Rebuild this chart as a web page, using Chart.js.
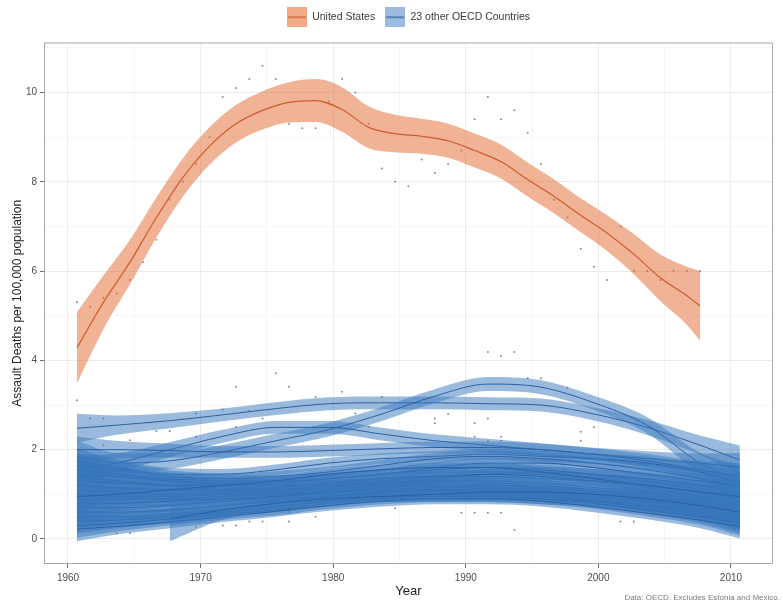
<!DOCTYPE html>
<html><head><meta charset="utf-8">
<script src="https://cdn.jsdelivr.net/npm/chart.js@4.4.1/dist/chart.umd.min.js"></script>
<style>html,body{margin:0;padding:0;background:#fff}#wrap{width:783px;height:608px}</style>
</head><body><div id="wrap"><canvas id="c" width="783" height="608"></canvas></div>
<script>
// Observations are plotted at this fraction of the year
const YEAR_POS = 0.67;

// ---- United States ----
const US_YEARS = [1960,1961,1962,1963,1964,1965,1966,1967,1968,1969,1970,1971,1972,1973,1974,1975,1976,1977,1978,1979,
  1980,1981,1982,1983,1984,1985,1986,1987,1988,1989,1990,1991,1992,1993,1994,1995,1996,1997,1998,1999,
  2000,2001,2002,2003,2004,2005,2006,2007];
const US_RATES = [5.3,5.2,5.4,5.5,5.8,6.2,6.7,7.6,8.0,8.4,9.0,9.9,10.1,10.3,10.6,10.3,9.3,9.2,9.2,9.8,
  10.3,10.0,9.3,8.3,8.0,7.9,8.5,8.2,8.4,8.7,9.4,9.9,9.4,9.6,9.1,8.4,7.6,7.2,6.5,6.1,
  5.8,7.0,6.0,6.0,5.8,6.0,6.0,6.0];
const US_FIT_YEARS = [1960,1962,1964,1966,1968,1970,1972,1974,1976,1978,1980,1982,1984,1986,1988,1990,1992,1994,1996,1998,2000,2002,2004,2006,2007];
const US_FIT = [4.28,5.3,6.2,7.2,8.1,8.8,9.3,9.6,9.78,9.82,9.62,9.22,9.08,9.02,8.92,8.7,8.45,8.05,7.67,7.25,6.85,6.38,5.85,5.45,5.22];
const US_FIT_HALF = [0.8,0.6,0.5,0.45,0.43,0.42,0.42,0.43,0.45,0.48,0.5,0.47,0.42,0.39,0.38,0.38,0.38,0.38,0.38,0.38,0.4,0.45,0.52,0.65,0.78];

// ---- 23 other OECD countries (smoothed fits read at these years) ----
const OECD_SAMPLE_YEARS = [1960,1963,1967,1971,1975,1979,1983,1987,1991,1995,1999,2003,2007,2010];
const OECD_FITS = [
  [2.48,2.55,2.65,2.78,2.92,3.03,3.05,3.05,3.03,3.0,2.8,2.5,2.1,1.77],
  [1.85,1.7,1.75,1.95,2.2,2.45,2.8,3.2,3.47,3.4,3.05,2.55,1.7,1.3],
  [1.55,1.7,2.0,2.3,2.5,2.5,2.35,2.2,2.1,2.0,1.9,1.8,1.7,1.6],
  [2.0,2.0,1.98,1.95,1.95,1.98,2.02,2.05,2.05,2.0,1.9,1.75,1.55,1.4],
  [1.75,1.6,1.45,1.45,1.55,1.7,1.8,1.85,1.9,1.85,1.8,1.7,1.5,1.25],
  [1.65,1.55,1.4,1.35,1.4,1.5,1.65,1.8,1.85,1.8,1.7,1.55,1.35,1.15],
  [1.55,1.45,1.35,1.3,1.3,1.35,1.45,1.6,1.7,1.7,1.6,1.45,1.3,1.2],
  [1.45,1.4,1.3,1.25,1.2,1.2,1.25,1.35,1.45,1.5,1.45,1.35,1.2,1.05],
  [1.4,1.3,1.2,1.1,1.05,1.0,0.95,0.95,0.95,0.9,0.85,0.75,0.6,0.5],
  [1.3,1.25,1.2,1.2,1.25,1.35,1.45,1.55,1.6,1.55,1.45,1.3,1.1,0.9],
  [1.2,1.15,1.1,1.1,1.15,1.25,1.35,1.4,1.4,1.35,1.3,1.2,1.05,0.9],
  [1.1,1.05,1.0,1.05,1.1,1.2,1.3,1.4,1.45,1.4,1.3,1.15,0.95,0.8],
  [1.0,0.95,0.95,1.0,1.05,1.15,1.25,1.3,1.3,1.25,1.15,1.05,0.9,0.75],
  [0.9,0.9,0.9,0.95,1.0,1.1,1.2,1.25,1.25,1.2,1.1,1.0,0.85,0.7],
  [0.8,0.8,0.85,0.9,0.95,1.05,1.15,1.2,1.2,1.15,1.05,0.95,0.8,0.65],
  [0.7,0.7,0.75,0.85,0.95,1.05,1.1,1.15,1.15,1.1,1.0,0.9,0.75,0.6],
  [0.6,0.6,0.65,0.75,0.85,0.95,1.05,1.1,1.1,1.05,0.95,0.85,0.7,0.55],
  [0.5,0.5,0.55,0.65,0.8,0.95,1.05,1.1,1.05,1.0,0.9,0.75,0.6,0.45],
  [0.4,0.42,0.5,0.6,0.72,0.85,0.95,1.0,1.0,0.95,0.85,0.7,0.55,0.4],
  [0.3,0.35,0.45,0.55,0.65,0.8,0.9,0.95,0.95,0.9,0.8,0.65,0.5,0.35],
  [0.22,0.28,0.38,0.5,0.62,0.75,0.85,0.9,0.9,0.85,0.72,0.58,0.42,0.28],
  [null,null,0.45,0.65,0.8,0.9,0.95,1.0,1.05,1.05,1.0,0.9,0.75,0.6],
  [0.95,1.0,1.1,1.2,1.3,1.45,1.55,1.6,1.6,1.5,1.35,1.2,1.05,0.95]
];
const OECD_BAND_HALF = [0.27,0.18,0.14,0.12,0.12,0.12,0.12,0.12,0.12,0.12,0.12,0.14,0.18,0.27];
const LATE_BAND_HALF = [null,null,0.5,0.22,0.14,0.12,0.12,0.12,0.12,0.12,0.12,0.14,0.18,0.27];
const OECD_BAND_SCALE = [1.2,1.3,1.2,1.1,1,1,1,1,1,1,1,1,1,1,1,1,1,1,1,1,1,1,1];
// Visible individual observations outside the fitted bands
const OECD_PT_YEARS = [1960,1961,1962,1962,1964,1966,1967,1969,1969,1971,1972,1972,1973,1974,1975,1976,1978,1980,1981,1982,1983,
  1987,1987,1988,1990,1991,1990,1991,1992,1992,1991,1992,1993,1994,1995,1997,1998,1998,1999,
  1963,1964,1969,1971,1972,1973,1974,1976,1976,1978,1984,1989,1990,1991,1992,1993,2001,2002];
const OECD_PT_RATES = [3.11,2.70,2.70,2.10,2.21,2.42,2.42,2.81,2.29,2.90,3.41,2.51,2.87,2.70,3.71,3.41,3.18,3.30,2.81,2.51,3.18,
  2.70,2.59,2.80,2.60,2.70,2.29,2.20,2.29,2.20,4.19,4.10,4.19,3.60,3.60,3.39,2.40,2.20,2.50,
  0.13,0.13,0.28,0.30,0.30,0.39,0.39,0.39,0.61,0.50,0.69,0.59,0.59,0.59,0.59,0.20,0.39,0.39];

// Axis ticks
const X_TICKS = [1960,1965,1970,1975,1980,1985,1990,1995,2000,2005,2010];
const X_LABELS = [1960,1970,1980,1990,2000,2010];
const Y_TICKS = [0,1,2,3,4,5,6,7,8,9,10,11];
const Y_LABELS = [0,2,4,6,8,10];

const US_FILL = 'rgba(228,110,52,0.52)';
const US_LINE = '#cf5b2c';
const OECD_FILL = 'rgba(55,120,190,0.5)';
const OECD_LINE = '#2a5fa3';
const PT_COLOR = 'rgba(85,90,110,0.7)';

const datasets = [];
let drawIdx = 0;
function add(ds){ ds.order = 10000 - (drawIdx++); ds.xAxisID = 'x'; ds.yAxisID = 'y'; datasets.push(ds); return ds; }

// points first (drawn underneath)
add({label:'us-pts', data: US_YEARS.map((y,i)=>({x:y+YEAR_POS,y:US_RATES[i]})), showLine:false,
  pointRadius:1.0, pointBorderWidth:0, pointBackgroundColor:PT_COLOR});
add({label:'oecd-pts', data: OECD_PT_YEARS.map((y,i)=>({x:y+YEAR_POS,y:OECD_PT_RATES[i]})), showLine:false,
  pointRadius:1.0, pointBorderWidth:0, pointBackgroundColor:PT_COLOR});

const bandBase = {pointRadius:0, borderWidth:0, cubicInterpolationMode:'monotone'};
OECD_FITS.forEach((fit,i)=>{
  const halfArr = fit[0]==null ? LATE_BAND_HALF : OECD_BAND_HALF;
  const up=[], lo=[], mid=[];
  OECD_SAMPLE_YEARS.forEach((yr,j)=>{
    if (fit[j]==null) return;
    const h = halfArr[j]*OECD_BAND_SCALE[i];
    up.push({x:yr+YEAR_POS,y:fit[j]+h}); lo.push({x:yr+YEAR_POS,y:fit[j]-h}); mid.push({x:yr+YEAR_POS,y:fit[j]});
  });
  add(Object.assign({label:'oecd-up-'+i, data:up, fill:'+1', backgroundColor:OECD_FILL}, bandBase));
  add(Object.assign({label:'oecd-lo-'+i, data:lo, fill:false}, bandBase));
  add({label:'oecd-fit-'+i, data:mid, borderColor:OECD_LINE, borderWidth:1, pointRadius:0, fill:false, cubicInterpolationMode:'monotone'});
});
{
  const up=[], lo=[], mid=[];
  US_FIT_YEARS.forEach((yr,j)=>{
    up.push({x:yr+YEAR_POS,y:US_FIT[j]+US_FIT_HALF[j]});
    lo.push({x:yr+YEAR_POS,y:US_FIT[j]-US_FIT_HALF[j]});
    mid.push({x:yr+YEAR_POS,y:US_FIT[j]});
  });
  add(Object.assign({label:'us-up', data:up, fill:'+1', backgroundColor:US_FILL}, bandBase));
  add(Object.assign({label:'us-lo', data:lo, fill:false}, bandBase));
  add({label:'us-fit', data:mid, borderColor:US_LINE, borderWidth:1.2, pointRadius:0, fill:false, cubicInterpolationMode:'monotone'});
}

function keyCanvas(fill, line){
  const c = document.createElement('canvas'); c.width=20; c.height=20;
  const x = c.getContext('2d');
  x.fillStyle = fill; x.fillRect(0,0,20,20);
  x.strokeStyle = line; x.lineWidth = 1.2; x.beginPath(); x.moveTo(1,10); x.lineTo(19,10); x.stroke();
  return c;
}
const US_KEY = keyCanvas('#f1ab89', US_LINE);
const OECD_KEY = keyCanvas('#9bbbe0', OECD_LINE);

const frame = {
  id:'frame',
  afterDatasetsDraw(chart){
    const {ctx, chartArea:a} = chart;
    ctx.save(); ctx.strokeStyle='#a8a8a8'; ctx.lineWidth=1;
    ctx.strokeRect(a.left+0.5, a.top+0.5, a.right-a.left-1, a.bottom-a.top-1);
    ctx.restore();
  },
  afterDraw(chart){
    const ctx = chart.ctx; ctx.save();
    ctx.font = '8px "Liberation Sans", Arial, sans-serif'; ctx.fillStyle='#7a7a7a';
    ctx.textAlign='right'; ctx.textBaseline='middle';
    ctx.fillText('Data: OECD. Excludes Estonia and Mexico.', 780, 598);
    ctx.restore();
  }
};

Chart.defaults.font.family = '"Liberation Sans", Arial, sans-serif';
new Chart(document.getElementById('c'), {
  type:'line',
  data:{datasets},
  plugins:[frame],
  options:{
    responsive:false, animation:false, devicePixelRatio:1,
    layout:{padding:{top:2,right:10,bottom:0,left:0}},
    plugins:{
      tooltip:{enabled:false},
      legend:{
        position:'top', align:'center', fullSize:false,
        labels:{
          usePointStyle:true, pointStyleWidth:20, padding:10,
          color:'#3a3a3a', font:{size:10.5},
          generateLabels(){
            return [
              {text:'United States', pointStyle:US_KEY, fillStyle:'#f1ab89', strokeStyle:US_LINE, lineWidth:0, hidden:false, fontColor:'#3a3a3a'},
              {text:'23 other OECD Countries', pointStyle:OECD_KEY, fillStyle:'#9bbbe0', strokeStyle:OECD_LINE, lineWidth:0, hidden:false, fontColor:'#3a3a3a'}
            ];
          }
        },
        onClick(){}
      }
    },
    scales:{
      x:{
        type:'linear', position:'bottom', min:1958.19, max:2013.17,
        afterBuildTicks(s){ s.ticks = X_TICKS.map(v=>({value:v})); },
        afterFit(s){ s.height = 44; },
        border:{display:false},
        grid:{
          color:(c)=> X_LABELS.includes(c.tick && c.tick.value) ? '#ebebeb' : '#f6f6f6',
          tickColor:(c)=> X_LABELS.includes(c.tick && c.tick.value) ? '#6a6a6a' : 'rgba(0,0,0,0)',
          tickLength:4, lineWidth:1
        },
        ticks:{
          autoSkip:false, maxRotation:0, padding:4, color:'#4d4d4d', font:{size:10},
          callback:(v)=> X_LABELS.includes(v) ? String(v) : ''
        },
        title:{display:true, text:'Year', color:'#222', font:{size:13}, padding:{top:0,bottom:9}}
      },
      y:{
        type:'linear', position:'left', min:-0.56, max:11.12,
        afterBuildTicks(s){ s.ticks = Y_TICKS.map(v=>({value:v})); },
        afterFit(s){ s.width = 44; },
        border:{display:false},
        grid:{
          color:(c)=> Y_LABELS.includes(c.tick && c.tick.value) ? '#ebebeb' : '#f6f6f6',
          tickColor:(c)=> Y_LABELS.includes(c.tick && c.tick.value) ? '#6a6a6a' : 'rgba(0,0,0,0)',
          tickLength:4, lineWidth:1
        },
        ticks:{
          autoSkip:false, padding:3, color:'#4d4d4d', font:{size:10},
          callback:(v)=> Y_LABELS.includes(v) ? String(v) : ''
        },
        title:{display:true, text:'Assault Deaths per 100,000 population', color:'#222', font:{size:12}, padding:{top:10,bottom:0}}
      },
      spacer:{
        type:'linear', position:'top', axis:'x', display:true,
        afterFit(s){ s.height = 10; },
        border:{display:false},
        grid:{display:false, drawTicks:false},
        ticks:{display:false}
      }
    }
  }
});
</script>
</body></html>
